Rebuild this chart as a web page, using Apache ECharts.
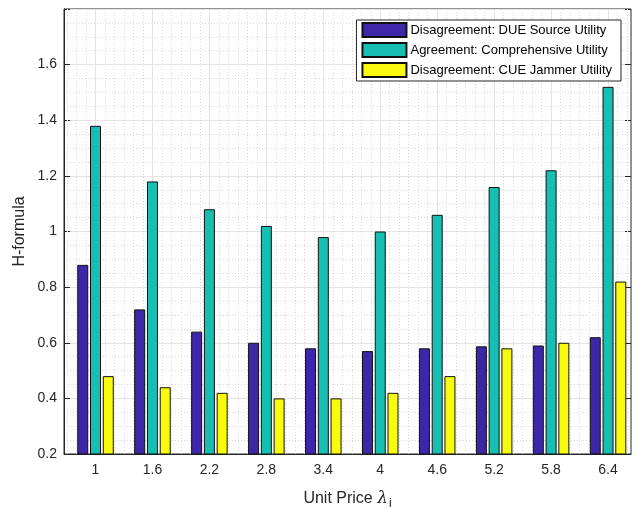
<!DOCTYPE html>
<html>
<head>
<meta charset="utf-8">
<script src="https://cdn.jsdelivr.net/npm/echarts@6/dist/echarts.min.js"></script>
<style>
  html, body { margin: 0; padding: 0; background: #fff; }
  #chart { width: 640px; height: 509px; }
</style>
</head>
<body>
<div id="chart"></div>
<script>
// Unit price values on the x axis (lambda_i)
const unitPrices = [1, 1.6, 2.2, 2.8, 3.4, 4, 4.6, 5.2, 5.8, 6.4];
const priceLabels = ['1', '1.6', '2.2', '2.8', '3.4', '4', '4.6', '5.2', '5.8', '6.4'];

// H-formula values per scheme
const dueSourceUtility = [0.88, 0.72, 0.64, 0.60, 0.58, 0.57, 0.58, 0.587, 0.59, 0.62];
const comprehensiveUtility = [1.38, 1.18, 1.08, 1.02, 0.98, 1.00, 1.06, 1.16, 1.22, 1.52];
const cueJammerUtility = [0.48, 0.44, 0.42, 0.40, 0.40, 0.42, 0.48, 0.58, 0.60, 0.82];

const seriesNames = [
  'Disagreement: DUE Source Utility',
  'Agreement: Comprehensive Utility',
  'Disagreement: CUE Jammer Utility'
];

const yTicks = { min: 0.2, max: 1.8, step: 0.2 };

const FONT = 'Liberation Sans, Arial, Helvetica, sans-serif';
const xMin = 0.668, xMax = 6.642;

const MAJOR_GRID = '#e4e4e4';
const MINOR_GRID = '#d9d9d9';

// vertical grid: major lines at each price, dotted minor lines every 0.1
const minorX = [];
for (let k = 7; k <= 66; k++) {
  const v = +(k / 10).toFixed(1);
  if (unitPrices.indexOf(v) === -1) minorX.push(v);
}

function pairs(vals) {
  return vals.map((v, i) => [unitPrices[i], v]);
}

const barBase = {
  type: 'bar',
  barWidth: 11,
  barGap: '16%',
  xAxisIndex: 0,
  yAxisIndex: 0,
  z: 3
};

const chart = echarts.init(document.getElementById('chart'), null, { renderer: 'canvas' });

chart.setOption({
  animation: false,
  backgroundColor: '#ffffff',
  textStyle: { fontFamily: FONT },
  grid: {
    left: 64, right: 9, top: 9, bottom: 55,
    outerBoundsMode: 'none',
    containLabel: false,
    show: true,
    borderColor: '#262626',
    borderWidth: 1,
    backgroundColor: '#ffffff'
  },
  legend: {
    orient: 'vertical',
    right: 19,
    top: 20,
    itemWidth: 44,
    itemHeight: 14,
    itemGap: 4,
    padding: [2, 9, 3, 5],
    backgroundColor: '#ffffff',
    borderColor: '#262626',
    borderWidth: 1,
    borderRadius: 0,
    icon: 'rect',
    data: seriesNames,
    textStyle: { fontFamily: FONT, fontSize: 13, color: '#000', padding: [0, 0, 0, -1] }
  },
  xAxis: [
    {
      type: 'value',
      min: xMin,
      max: xMax,
      position: 'bottom',
      axisLine: { show: true, onZero: false, lineStyle: { color: '#262626', width: 1 } },
      axisTick: { show: true, inside: true, length: 6, customValues: unitPrices, lineStyle: { color: '#262626' } },
      axisLabel: {
        customValues: unitPrices,
        margin: 9,
        fontSize: 14,
        color: '#262626',
        fontFamily: FONT,
        formatter: (v) => {
          const i = unitPrices.findIndex(p => Math.abs(p - v) < 1e-6);
          return i >= 0 ? priceLabels[i] : '';
        }
      },
      splitLine: { show: false },
      name: '{t|Unit Price }{l|λ}{s|i}',
      nameLocation: 'middle',
      nameGap: 34,
      nameTextStyle: {
        rich: {
          t: { fontSize: 16, fontFamily: FONT, color: '#262626' },
          l: { fontSize: 17, fontFamily: 'DejaVu Serif, serif', fontStyle: 'italic', color: '#262626' },
          s: { fontSize: 12, fontFamily: FONT, color: '#262626', padding: [10, 0, 0, 1] }
        }
      }
    },
    {
      type: 'value',
      min: xMin,
      max: xMax,
      position: 'top',
      axisLine: { show: false },
      axisTick: { show: true, inside: true, length: 6, customValues: unitPrices, lineStyle: { color: '#262626' } },
      axisLabel: { show: false },
      splitLine: { show: false }
    }
  ],
  yAxis: [
    {
      type: 'value',
      min: yTicks.min,
      max: yTicks.max,
      interval: yTicks.step,
      position: 'left',
      axisLine: { show: true, onZero: false, lineStyle: { color: '#262626', width: 1 } },
      axisTick: { show: true, inside: true, length: 6, lineStyle: { color: '#262626' } },
      axisLabel: {
        margin: 7,
        fontSize: 14,
        color: '#262626',
        fontFamily: FONT,
        formatter: (v) => (Math.abs(v - yTicks.max) < 1e-6 ? '' : String(+v.toFixed(2)))
      },
      splitLine: { show: true, lineStyle: { color: MAJOR_GRID, width: 1 } },
      minorTick: { show: false, splitNumber: 4 },
      minorSplitLine: { show: true, lineStyle: { color: MINOR_GRID, width: 1, type: [1, 2] } },
      name: 'H-formula',
      nameLocation: 'middle',
      nameMoveOverlap: false,
      nameGap: 36,
      nameTextStyle: { fontSize: 16, fontFamily: FONT, color: '#262626' }
    },
    {
      type: 'value',
      min: yTicks.min,
      max: yTicks.max,
      interval: yTicks.step,
      position: 'right',
      axisLine: { show: false },
      axisTick: { show: true, inside: true, length: 6, lineStyle: { color: '#262626' } },
      axisLabel: { show: false },
      splitLine: { show: false }
    }
  ],
  series: [
    {
      type: 'line',
      name: 'xgrid',
      data: [],
      silent: true,
      xAxisIndex: 0,
      yAxisIndex: 0,
      markLine: {
        silent: true,
        z: 1,
        symbol: ['none', 'none'],
        label: { show: false },
        animation: false,
        data: [
          ...minorX.map(v => ({ xAxis: v, lineStyle: { color: MINOR_GRID, width: 1, type: [1, 2] } })),
          ...unitPrices.map(v => ({ xAxis: v, lineStyle: { color: MAJOR_GRID, width: 1, type: 'solid' } }))
        ]
      }
    },
    Object.assign({}, barBase, {
      name: seriesNames[0],
      data: pairs(dueSourceUtility),
      itemStyle: { color: '#3e26a8', borderColor: '#111', borderWidth: 1 }
    }),
    Object.assign({}, barBase, {
      name: seriesNames[1],
      data: pairs(comprehensiveUtility),
      itemStyle: { color: '#17bfb2', borderColor: '#111', borderWidth: 1 }
    }),
    Object.assign({}, barBase, {
      name: seriesNames[2],
      data: pairs(cueJammerUtility),
      itemStyle: { color: '#f9fb0e', borderColor: '#111', borderWidth: 1 }
    })
  ]
});
</script>
</body>
</html>
